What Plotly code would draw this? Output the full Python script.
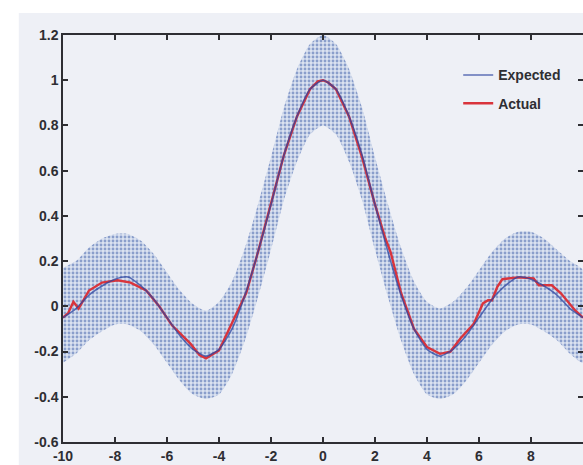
import plotly.graph_objects as go

# ---- data ----
x_grid = [-10, -9.5, -9, -8.5, -8, -7.5, -7, -6.5, -6, -5.5, -5, -4.5, -4, -3.5, -3, -2.5, -2, -1.5, -1, -0.5,
          0, 0.5, 1, 1.5, 2, 2.5, 3, 3.5, 4, 4.5, 5, 5.5, 6, 6.5, 7, 7.5, 8, 8.5, 9, 9.5, 10]

expected = [-0.05, -0.01, 0.05, 0.09, 0.12, 0.13, 0.09, 0.03, -0.05, -0.13, -0.19, -0.22, -0.19, -0.10, 0.05,
            0.24, 0.45, 0.67, 0.84, 0.96, 1.00, 0.96, 0.84, 0.67, 0.45, 0.24, 0.05, -0.10, -0.19, -0.22,
            -0.19, -0.13, -0.05, 0.03, 0.09, 0.13, 0.12, 0.09, 0.05, -0.01, -0.05]

# envelope of the noisy sample cloud
cloud_upper = [0.17, 0.20, 0.26, 0.30, 0.32, 0.32, 0.29, 0.23, 0.15, 0.07, 0.01, -0.02, 0.02, 0.11, 0.26,
               0.45, 0.66, 0.88, 1.05, 1.16, 1.20, 1.16, 1.05, 0.88, 0.66, 0.45, 0.26, 0.11, 0.02, -0.01,
               0.02, 0.08, 0.16, 0.24, 0.30, 0.33, 0.33, 0.30, 0.25, 0.20, 0.16]
cloud_lower = [-0.25, -0.21, -0.15, -0.11, -0.08, -0.08, -0.11, -0.17, -0.25, -0.33, -0.39, -0.41, -0.39, -0.30,
               -0.15, 0.04, 0.25, 0.47, 0.64, 0.76, 0.80, 0.76, 0.64, 0.47, 0.25, 0.04, -0.15, -0.30, -0.39,
               -0.41, -0.39, -0.33, -0.25, -0.17, -0.11, -0.08, -0.08, -0.11, -0.15, -0.21, -0.25]

actual_x = [-10, -9.8, -9.6, -9.4, -9.0, -8.5, -7.9, -7.4, -6.8, -6.3, -5.8, -5.1, -4.75, -4.5, -4.0, -3.5,
            -2.95, -2.5, -2, -1.5, -1, -0.5, -0.2, 0, 0.2, 0.5, 1, 1.5, 2, 2.4, 2.6, 2.8, 3.0, 3.5, 4.0, 4.5,
            4.9, 5.3, 5.8, 6.15, 6.35, 6.5, 6.7, 6.9, 7.5, 8.1, 8.3, 8.8, 9.15, 9.7, 10]
actual_y = [-0.05, -0.03, 0.02, -0.01, 0.07, 0.105, 0.115, 0.105, 0.07, 0.0, -0.085, -0.165, -0.215, -0.23,
            -0.195, -0.075, 0.06, 0.24, 0.45, 0.67, 0.84, 0.96, 0.995, 1.0, 0.99, 0.96, 0.84, 0.66, 0.45, 0.30,
            0.24, 0.15, 0.06, -0.10, -0.18, -0.21, -0.20, -0.14, -0.077, 0.013, 0.027, 0.027, 0.085, 0.12,
            0.128, 0.124, 0.093, 0.093, 0.058, -0.018, -0.05]

x_ticks = [-10, -8, -6, -4, -2, 0, 2, 4, 6, 8, 10]
x_ticktext = ["-10", "-8", "-6", "-4", "-2", "0", "2", "4", "6", "8", "10"]
y_ticks = [-0.6, -0.4, -0.2, 0, 0.2, 0.4, 0.6, 0.8, 1, 1.2]
y_ticktext = ["-0.6", "-0.4", "-0.2", "0", "0.2", "0.4", "0.6", "0.8", "1", "1.2"]

BG = "#eef0f6"
AX = "#2e2e33"
FONT = "Liberation Sans, Arial, sans-serif"

fig = go.Figure()

# noisy sample cloud as dotted band
fig.add_trace(go.Scatter(
    x=x_grid + x_grid[::-1],
    y=cloud_upper + cloud_lower[::-1],
    mode="lines", line=dict(width=0, shape="spline", smoothing=0.6),
    fill="toself",
    fillcolor="rgba(110,140,200,0.22)",
    fillpattern=dict(shape=".", fgcolor="rgba(40,75,160,0.9)", bgcolor="rgba(150,175,220,0.22)",
                     size=4, solidity=0.4),
    hoverinfo="skip", showlegend=False,
))

fig.add_trace(go.Scatter(
    x=actual_x, y=actual_y, mode="lines", name="Actual",
    line=dict(color="#d9343c", width=2.4), legendrank=2, legendgroup="b",
))
fig.add_trace(go.Scatter(
    x=x_grid, y=expected, mode="lines", name="Expected",
    line=dict(color="rgba(45,70,160,0.75)", width=1.6, shape="spline", smoothing=0.6),
    legendrank=1, legendgroup="a",
))

# right-side inward ticks (plot is cut at the right edge)
fig.add_trace(go.Scatter(x=[None], y=[None], yaxis="y2", showlegend=False, hoverinfo="skip"))

tickfont = dict(family=FONT, size=14, color=AX, weight="bold")

fig.update_layout(
    width=583, height=465,
    margin=dict(l=63, r=0, t=35, b=23),
    paper_bgcolor="white",
    plot_bgcolor=BG,
    font=dict(family=FONT, size=14, color=AX),
    xaxis=dict(range=[-10, 10], tickvals=x_ticks, ticktext=x_ticktext, ticks="inside", ticklen=5,
               tickwidth=1.5, tickcolor=AX, showline=True, linecolor=AX, linewidth=1.5, mirror="ticks",
               showgrid=False, zeroline=False, tickfont=tickfont),
    yaxis=dict(range=[-0.6, 1.2], tickvals=y_ticks, ticktext=y_ticktext, ticks="inside", ticklen=5,
               tickwidth=1.5, tickcolor=AX, showline=True, linecolor=AX, linewidth=1.5,
               showgrid=False, zeroline=False, tickfont=tickfont),
    yaxis2=dict(range=[-0.6, 1.2], tickvals=y_ticks, overlaying="y", side="right", ticks="inside",
                ticklen=5, tickwidth=1.5, tickcolor=AX, showticklabels=False, showline=False,
                showgrid=False, zeroline=False),
    legend=dict(x=0.76, y=0.94, xanchor="left", yanchor="top", bgcolor="rgba(0,0,0,0)",
                font=dict(family=FONT, size=14, color=AX, weight="bold"), traceorder="grouped",
                itemwidth=30, tracegroupgap=7),
    shapes=[dict(type="rect", xref="paper", yref="paper", x0=-0.085, x1=1.01, y0=-0.06, y1=1.054,
                 fillcolor=BG, line=dict(width=0), layer="below")],
)

fig.write_html("out.html")
